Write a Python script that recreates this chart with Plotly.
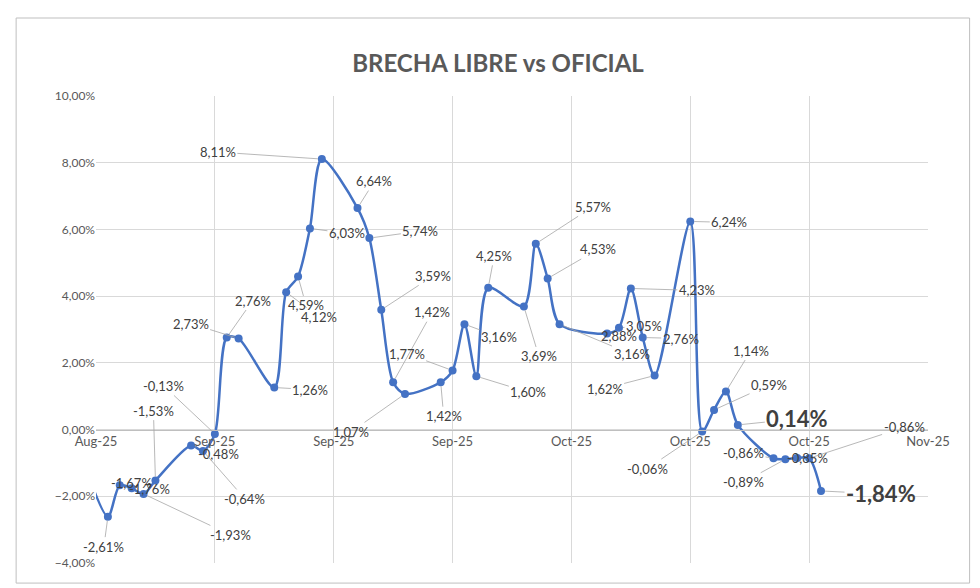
import plotly.graph_objects as go

# --- Datos ---
fechas = ['2025-08-27', '2025-08-29', '2025-08-30', '2025-08-31', '2025-09-01', '2025-09-02',
          '2025-09-05', '2025-09-06', '2025-09-07', '2025-09-08', '2025-09-09', '2025-09-12',
          '2025-09-13', '2025-09-14', '2025-09-15', '2025-09-16', '2025-09-19', '2025-09-20',
          '2025-09-21', '2025-09-22', '2025-09-23', '2025-09-26', '2025-09-27', '2025-09-28',
          '2025-09-29', '2025-09-30', '2025-10-03', '2025-10-04', '2025-10-05', '2025-10-06',
          '2025-10-10', '2025-10-11', '2025-10-12', '2025-10-13', '2025-10-14', '2025-10-17',
          '2025-10-18', '2025-10-19', '2025-10-20', '2025-10-21', '2025-10-24', '2025-10-25',
          '2025-10-26', '2025-10-27', '2025-10-28']
brecha = [-1.0, -2.61, -1.67, -1.76, -1.93, -1.53,
          -0.48, -0.64, -0.13, 2.76, 2.73, 1.26,
          4.12, 4.59, 6.03, 8.11, 6.64, 5.74,
          3.59, 1.42, 1.07, 1.42, 1.77, 3.16,
          1.60, 4.25, 3.69, 5.57, 4.53, 3.16,
          2.88, 3.05, 4.23, 2.76, 1.62, 6.24,
          -0.06, 0.59, 1.14, 0.14, -0.86, -0.89,
          -0.85, -0.86, -1.84]
# desplazamiento de cada etiqueta (px); None = sin etiqueta
offsets = [None, (-4, 30), (12, -2), (18, 1), (87, 41), (-2, -70),
           (27, 8), (42, 48), (-51, -48), (26, -37), (-48, -15), (36, 2),
           (33, 25), (8, 29), (37, 5), (-104, -7), (17, -27), (51, -7),
           (52, -34), (39, -70), (-54, 38), (3, 34), (-46, -17), (35, 13),
           (52, 16), (6, -32), (15, 50), (57, -37), (50, -29), (72, 30),
           (12, 2), (25, -2), (66, 2), (38, 1), (-50, 13), (39, 1),
           (-55, 37), (55, -25), (25, -41), (59, -6), (-30, -5), (-42, 23),
           (10, 0), (95, -31), (60, 3)]
destacados = {39, 44}

fig = go.Figure()
fig.add_trace(go.Scatter(
    x=fechas, y=brecha, mode='lines+markers', line_shape='spline',
    line=dict(color='#4472C4', width=2.5, smoothing=0.8),
    marker=dict(color='#4472C4', size=8),
    cliponaxis=True, showlegend=False
))

for i, (f, v) in enumerate(zip(fechas, brecha)):
    if offsets[i] is None:
        continue
    ax, ay = offsets[i]
    texto = f"{v:.2f}".replace('.', ',') + '%'
    big = i in destacados
    fig.add_annotation(
        x=f, y=v, text=f"<b>{texto}</b>" if big else texto,
        showarrow=True, arrowhead=0, arrowwidth=0.8, arrowcolor='#A6A6A6',
        ax=ax, ay=ay, standoff=4,
        font=dict(size=22 if big else 13, color='#404040')
    )

fig.add_shape(type='rect', xref='paper', yref='paper', x0=-0.096, x1=1.05, y0=-0.043, y1=1.167,
              line=dict(color='#BFBFBF', width=1))

fig.update_layout(
    title=dict(text='<b>BRECHA LIBRE vs OFICIAL</b>', x=0.5, y=0.92, xanchor='center',
               font=dict(size=24, color='#595959')),
    font=dict(family='Lato', size=12, color='#595959'),
    separators=',.',
    paper_bgcolor='white', plot_bgcolor='white',
    width=980, height=588,
    margin=dict(l=88, r=60, t=88, b=33, autoexpand=False),
    xaxis=dict(type='date', range=['2025-08-28', '2025-11-06'], tick0='2025-08-28',
               dtick=10 * 86400000, tickformat='%b-%y', showgrid=True, gridcolor='#D9D9D9',
               anchor='free', position=4 / 14, showline=True, linecolor='#BFBFBF',
               zeroline=False, ticks='', automargin=False, tickfont=dict(size=13)),
    yaxis=dict(range=[-4, 10], dtick=2, tickformat='.2f', ticksuffix='%', showgrid=True,
               gridcolor='#D9D9D9', zeroline=False, automargin=False),
)

fig.write_html("out.html")
